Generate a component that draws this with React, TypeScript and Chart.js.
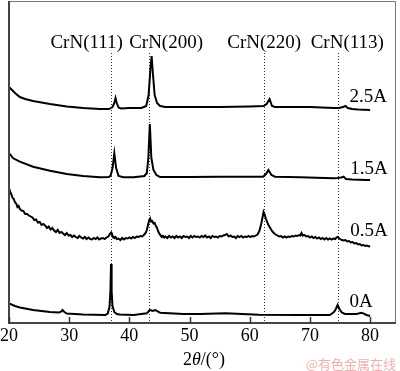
import { useEffect, useRef } from 'react';
import { Chart, registerables } from 'chart.js';

Chart.register(...registerables);

// ---- data (2θ in degrees, intensity in arbitrary offset units) ----
const xTicks = [20, 30, 40, 50, 60, 70, 80];
const seriesNames = ['2.5A', '1.5A', '0.5A', '0A'];
const peakNames = ['CrN(111)', 'CrN(200)', 'CrN(220)', 'CrN(113)'];
const peakAngles = [36.95, 43.3, 62.4, 74.6];

const s25A: [number, number][] = [
  [20, 236], [21.0, 230], [21.8, 226], [22.7, 224], [24.0, 222], [26.8, 219], [29.6, 216.5], [32.3, 215], [35.1, 214],
  [36.6, 214], [37.2, 216], [37.5, 220], [37.7, 225], [37.9, 220], [38.2, 215.5], [38.6, 214.5], [40, 215], [42, 215],
  [42.8, 217], [43.2, 228], [43.5, 255], [43.7, 267], [43.9, 250], [44.2, 228], [44.6, 220], [45.1, 217], [46, 216],
  [50, 216], [55, 216], [60, 216.5], [62.3, 217], [62.8, 219], [63.3, 224], [63.7, 217], [64.2, 216], [66, 216],
  [70, 216], [74, 215], [74.8, 215], [75.5, 216], [75.9, 217], [76.3, 215], [77, 214], [78, 213.5], [80, 213],
];

const s15A: [number, number][] = [
  [20, 170], [20.7, 164.7], [21.8, 161.3], [24.0, 156.3], [26.8, 152.3], [29.6, 149], [32.3, 147], [35.1, 145.7],
  [36.6, 146], [36.9, 147.5], [37.2, 155], [37.5, 169.7], [37.8, 155], [38.2, 147], [39, 145.8], [40.7, 145.7],
  [42.5, 147], [42.9, 150], [43.15, 165], [43.4, 199], [43.65, 165], [44.0, 153], [44.5, 148], [45.1, 146],
  [50, 146], [55, 146.3], [60, 146.3], [62.2, 146.3], [62.7, 149], [63.1, 153], [63.6, 148], [64.2, 146.3],
  [68.4, 145.7], [73.8, 144.7], [74.6, 145], [75.2, 145.5], [75.6, 146.3], [76.0, 144], [77, 143.5], [79.4, 143], [80, 143],
];

const s05A: [number, number][] = [
  [20.0, 135], [20.2, 131], [20.4, 128.5], [20.6, 125], [20.8, 124], [21.0, 120.5], [21.2, 119.5], [21.4, 116],
  [21.6, 117], [21.8, 114], [22.1, 112.5], [22.4, 112], [22.7, 109], [23.0, 109], [23.3, 107.5], [23.6, 106.5],
  [23.9, 105.5], [24.2, 103], [24.5, 103.5], [24.8, 100.5], [25.1, 101], [25.4, 98], [25.7, 99], [26.0, 97.5],
  [26.3, 95], [26.6, 96.5], [26.9, 93.5], [27.2, 95], [27.5, 92.5], [27.8, 91], [28.1, 93], [28.4, 90],
  [28.7, 91], [29.0, 89.5], [29.3, 88], [29.6, 90], [29.9, 87.5], [30.2, 88], [30.5, 86], [30.8, 87.5],
  [31.1, 86], [31.4, 85], [31.7, 87], [32.0, 85.5], [32.3, 84.5], [32.6, 86], [32.9, 84], [33.2, 85.5],
  [33.5, 84], [33.8, 83.5], [34.1, 85], [34.4, 84], [34.7, 85.5], [35.0, 83.5], [35.3, 84.5], [35.6, 85],
  [35.9, 84], [36.2, 85.5], [36.5, 86.5], [36.8, 89.5], [36.95, 90.5], [37.1, 88.5], [37.3, 86.5],
  [37.5, 85], [37.7, 86], [37.9, 84], [38.2, 84.5], [38.5, 83], [38.8, 85], [39.1, 83.5], [39.4, 85],
  [39.7, 84.5], [40.0, 85.5], [40.3, 84.5], [40.6, 86], [40.9, 85], [41.2, 86.5], [41.5, 86], [41.8, 87],
  [42.1, 86.5], [42.4, 88], [42.7, 90], [42.9, 93], [43.1, 98],
  [43.3, 103], [43.45, 104.5], [43.6, 101.5], [43.8, 102], [44.0, 99.5], [44.2, 100], [44.4, 97], [44.6, 95],
  [44.8, 91.5], [45.0, 89], [45.2, 87.5], [45.4, 86], [45.6, 87], [45.8, 85.5], [46.0, 86.5], [46.3, 85],
  [46.6, 87], [46.9, 85.5], [47.2, 86.5], [47.5, 85], [47.8, 87], [48.1, 85.5], [48.4, 86.5], [48.7, 85],
  [49.0, 87], [49.3, 86], [49.6, 86.5], [49.9, 85], [50.2, 87], [50.5, 85.5], [50.8, 87], [51.1, 86],
  [51.4, 86.5], [51.7, 85.5], [52.0, 87], [52.3, 86], [52.6, 87.5], [52.9, 85.5], [53.2, 86.5], [53.5, 85],
  [53.8, 87], [54.1, 86], [54.4, 86.5], [54.7, 85.5], [55.0, 87], [55.3, 86.5], [55.6, 87.5], [55.9, 88],
  [56.2, 89], [56.5, 86.5], [56.8, 87.5], [57.1, 86], [57.4, 86.5], [57.7, 85], [58.0, 87], [58.3, 86],
  [58.6, 87], [58.9, 85.5], [59.2, 86.5], [59.5, 86], [59.8, 87], [60.1, 86], [60.4, 87], [60.7, 86.5],
  [61.0, 87.5], [61.3, 88.5], [61.6, 92], [61.9, 99], [62.1, 105], [62.3, 111], [62.5, 108], [62.7, 104],
  [62.9, 101], [63.1, 98], [63.4, 95], [63.7, 92], [64.0, 90], [64.3, 88.5], [64.6, 87.5], [64.9, 86.5],
  [65.2, 87], [65.5, 85.5], [65.8, 86.5], [66.1, 85.5], [66.4, 86.5], [66.7, 86], [67.0, 87], [67.3, 86.5],
  [67.6, 87.5], [67.9, 87], [68.2, 88], [68.4, 87.5], [68.6, 90], [68.8, 87.5], [69.1, 88], [69.4, 86.5],
  [69.7, 87], [70.0, 85.5], [70.3, 86.5], [70.6, 85], [70.9, 86], [71.2, 84.5], [71.5, 85.5], [71.8, 84],
  [72.1, 85], [72.4, 83.5], [72.7, 85], [73.0, 83.5], [73.3, 84.5], [73.6, 83.5], [73.9, 84.5], [74.2, 84],
  [74.4, 85.5], [74.6, 86], [74.8, 85], [75.0, 84], [75.3, 83], [75.6, 82.5], [75.9, 83], [76.2, 81.5],
  [76.5, 82], [76.8, 80.5], [77.1, 81], [77.4, 79.5], [77.7, 80], [78.0, 78.5], [78.3, 79], [78.6, 77.5],
  [78.9, 78], [79.2, 77], [79.5, 77.5], [79.8, 76.5], [80.0, 77],
];

const s0A: [number, number][] = [
  [20, 19.5], [21.0, 17], [21.8, 15.5], [24.0, 13], [26.8, 11], [28.3, 10.5], [28.7, 11.5], [28.9, 13],
  [29.2, 11], [29.6, 9.5], [32.3, 8.5], [36.0, 8], [36.4, 9.5], [36.7, 16], [36.85, 32], [36.95, 59], [37.05, 32],
  [37.2, 17], [37.5, 11], [37.9, 9], [38.4, 8.5], [40.7, 8], [42.9, 9.7], [43.4, 13], [43.9, 12], [44.3, 13],
  [45.1, 10.3], [49.0, 9], [51.7, 9], [56, 9.7], [61.5, 8.3], [68.4, 8], [73.3, 8], [74.0, 11],
  [74.3, 14], [74.6, 18], [74.9, 14], [75.3, 10.5], [75.8, 9], [77.7, 9], [78.6, 10.3], [79.4, 8], [80, 7],
];

const seriesData = [s25A, s15A, s05A, s0A];

// label anchors (data coordinates)
const seriesLabelPos: [number, number][] = [[79.7, 226], [79.8, 154], [79.8, 92], [78.5, 21]];
const peakLabelX = [32.9, 46.1, 62.4, 76.2];

const SERIF = '"Liberation Serif", "Times New Roman", serif';

const decorPlugin = {
  id: 'decor',
  beforeDatasetsDraw(chart: any) {
    const { ctx, chartArea: a, scales } = chart;
    const xs = scales.x;
    ctx.save();
    ctx.strokeStyle = '#333';
    ctx.lineWidth = 1;
    ctx.setLineDash([1, 2]);
    peakAngles.forEach((ang) => {
      const px = Math.round(xs.getPixelForValue(ang)) + 0.5;
      ctx.beginPath();
      ctx.moveTo(px, 53);
      ctx.lineTo(px, a.bottom);
      ctx.stroke();
    });
    ctx.restore();
  },
  afterDatasetsDraw(chart: any) {
    const { ctx, chartArea: a, scales } = chart;
    const xs = scales.x;
    const ys = scales.y;
    ctx.save();
    ctx.setLineDash([]);
    ctx.strokeStyle = '#777';
    ctx.lineWidth = 1;
    ctx.beginPath();
    ctx.moveTo(a.left, a.top + 0.5);
    ctx.lineTo(a.right - 0.5, a.top + 0.5);
    ctx.lineTo(a.right - 0.5, a.bottom);
    ctx.stroke();
    ctx.strokeStyle = '#444';
    ctx.lineWidth = 2;
    ctx.beginPath();
    ctx.moveTo(a.left, a.top);
    ctx.lineTo(a.left, a.bottom);
    ctx.lineTo(a.right, a.bottom);
    ctx.stroke();
    ctx.lineWidth = 1.5;
    ctx.strokeStyle = '#333';
    xs.ticks.forEach((t: any) => {
      const px = Math.round(xs.getPixelForValue(t.value)) + 0.5;
      ctx.beginPath();
      ctx.moveTo(px, a.bottom);
      ctx.lineTo(px, a.bottom - 6);
      ctx.stroke();
    });
    ctx.fillStyle = '#000';
    ctx.font = `19px ${SERIF}`;
    ctx.textAlign = 'center';
    ctx.textBaseline = 'middle';
    peakNames.forEach((n, i) => {
      ctx.fillText(n, xs.getPixelForValue(peakLabelX[i]), 43);
    });
    seriesNames.forEach((n, i) => {
      const [lx, ly] = seriesLabelPos[i];
      ctx.fillText(n, xs.getPixelForValue(lx), ys.getPixelForValue(ly));
    });
    const parts: [string, string][] = [
      ['2', `18px ${SERIF}`],
      ['θ', `italic 18px ${SERIF}`],
      ['/(°)', `18px ${SERIF}`],
    ];
    let total = 0;
    parts.forEach(([t, f]) => { ctx.font = f; total += ctx.measureText(t).width; });
    let cx = 204 - total / 2;
    ctx.textAlign = 'left';
    parts.forEach(([t, f]) => {
      ctx.font = f;
      ctx.fillText(t, cx, 360);
      cx += ctx.measureText(t).width;
    });
    ctx.font = '13px "Noto Sans CJK SC", sans-serif';
    ctx.fillStyle = '#f0b0b0';
    ctx.textAlign = 'right';
    ctx.fillText('@有色金属在线', 396, 364);
    ctx.restore();
  },
};

export default function App() {
  const ref = useRef<HTMLCanvasElement | null>(null);
  useEffect(() => {
    if (!ref.current) return;
    const chart = new Chart(ref.current, {
      type: 'line',
      data: {
        datasets: seriesData.map((s, i) => ({
          label: seriesNames[i],
          data: s.map(([x, y]) => ({ x, y })),
          borderColor: '#000',
          borderWidth: 2,
          pointRadius: 0,
          tension: 0,
          fill: false,
        })),
      },
      options: {
        animation: false,
        responsive: false,
        layout: { padding: { left: 9, top: 1, right: 4, bottom: 21 } },
        plugins: { legend: { display: false }, tooltip: { enabled: false } },
        scales: {
          x: {
            type: 'linear',
            min: 20,
            max: 84.3,
            grid: { display: false, drawTicks: false },
            border: { display: false },
            afterBuildTicks: (scale: any) => {
              scale.ticks = xTicks.map((v) => ({ value: v }));
            },
            ticks: {
              padding: 0,
              color: '#000',
              maxRotation: 0,
              autoSkip: false,
              font: { family: SERIF, size: 18, lineHeight: 1.5 },
            },
          },
          y: { display: false, min: 0, max: 322 },
        },
      },
      plugins: [decorPlugin],
    });
    return () => chart.destroy();
  }, []);
  return (
    <div style={{ position: 'absolute', left: 0, top: 0, width: 400, height: 371, background: '#fff' }}>
      <canvas ref={ref} width={400} height={371} />
    </div>
  );
}
